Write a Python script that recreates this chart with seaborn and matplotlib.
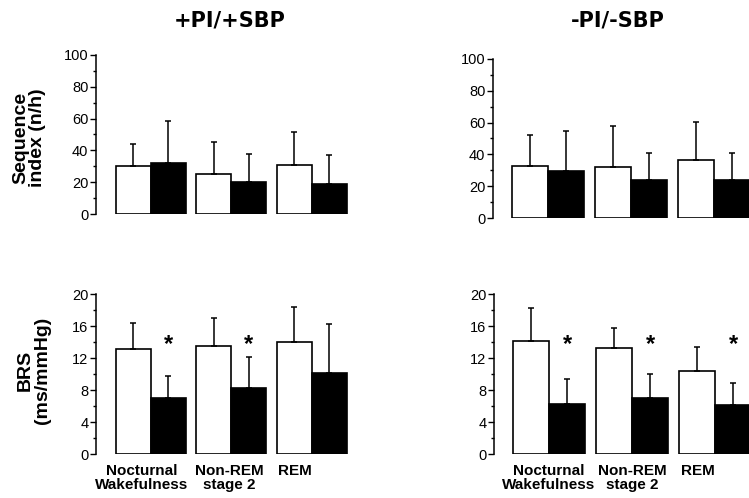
import numpy as np
import pandas as pd
import matplotlib
matplotlib.use("Agg")
import matplotlib.pyplot as plt
import seaborn as sns
from matplotlib.transforms import ScaledTranslation

# ---------------- data ----------------
stages = ["Nocturnal\nWakefulness", "Non-REM\nstage 2", "REM"]
groups = ["open", "filled"]

# +PI/+SBP sequence index (n/h)
seq_pos_white = [30.0, 25.0, 31.0]
seq_pos_white_sd = [14.0, 20.5, 20.5]
seq_pos_black = [32.0, 20.0, 19.0]
seq_pos_black_sd = [26.5, 18.0, 18.0]

# -PI/-SBP sequence index (n/h)
seq_neg_white = [32.7, 32.0, 36.3]
seq_neg_white_sd = [19.3, 26.0, 24.0]
seq_neg_black = [29.8, 24.0, 24.0]
seq_neg_black_sd = [25.2, 17.0, 16.8]

# +PI/+SBP BRS (ms/mmHg)
brs_pos_white = [13.1, 13.5, 14.0]
brs_pos_white_sd = [3.3, 3.5, 4.4]
brs_pos_black = [7.0, 8.2, 10.1]
brs_pos_black_sd = [2.8, 3.9, 6.2]

# -PI/-SBP BRS (ms/mmHg)
brs_neg_white = [14.1, 13.2, 10.4]
brs_neg_white_sd = [4.2, 2.6, 3.0]
brs_neg_black = [6.3, 7.0, 6.1]
brs_neg_black_sd = [3.1, 3.0, 2.8]

sig_pos = [True, True, False]
sig_neg = [True, True, True]

titles = ["+PI/+SBP", "-PI/-SBP"]
ylabels = ["Sequence\nindex (n/h)", "BRS\n(ms/mmHg)"]

# ---------------- style ----------------
sns.set_style("ticks")
plt.rcParams["font.family"] = ["Liberation Sans", "DejaVu Sans"]
for key in ["text.color", "axes.labelcolor", "xtick.color", "ytick.color",
            "axes.edgecolor"]:
    plt.rcParams[key] = "black"

W, H = 749, 498
fig = plt.figure(figsize=(W / 100, H / 100), dpi=100)


def add_ax(left_px, top_px, bottom_px, width_px):
    return fig.add_axes([left_px / W, 1 - bottom_px / H, width_px / W, (bottom_px - top_px) / H])


def panel(ax, white, white_sd, black, black_sd, ymax, major, minor, xlim, show_x,
          sig=None, sig_y=None, label_shift=None):
    df = pd.DataFrame({
        "stage": stages * 2,
        "group": [groups[0]] * 3 + [groups[1]] * 3,
        "value": white + black,
    })
    sns.barplot(data=df, x="stage", y="value", hue="group", order=stages,
                hue_order=groups, palette={groups[0]: "white", groups[1]: "black"},
                edgecolor="black", linewidth=1.2, width=0.87, gap=0,
                errorbar=None, legend=False, saturation=1, ax=ax)
    bars = sorted(ax.patches, key=lambda p: p.get_x())
    xs = [p.get_x() + p.get_width() / 2 for p in bars]
    hs = [p.get_height() for p in bars]
    sds = []
    for i in range(3):
        sds += [white_sd[i], black_sd[i]]
    ax.errorbar(xs, hs, yerr=[np.zeros(len(sds)), sds], fmt="none",
                ecolor="black", elinewidth=1.1, capsize=2.5, capthick=1.1, zorder=1)
    ax.set_ylim(0, ymax)
    ax.set_xlim(*xlim)
    ax.set_yticks(np.arange(0, ymax + 0.01, major))
    ax.set_yticks(np.arange(minor, ymax, major), minor=True)
    ax.tick_params(axis="y", which="major", direction="out", length=4, width=1,
                   pad=1.5, labelsize=10.5, colors="black")
    ax.tick_params(axis="y", which="minor", direction="out", length=2.5, width=1,
                   colors="black")
    ax.tick_params(axis="x", length=0, colors="black")
    sns.despine(ax=ax, bottom=True)
    ax.spines["left"].set_linewidth(1.1)
    ax.spines["left"].set_color("black")
    ax.set_xlabel("")
    ax.set_ylabel("")
    if show_x:
        ax.set_xticks(range(3))
        ax.set_xticklabels(stages, fontsize=11, fontweight="bold", linespacing=1.05,
                           color="black")
        ax.tick_params(axis="x", pad=7)
        if label_shift:
            for lab, dx in zip(ax.get_xticklabels(), label_shift):
                lab.set_transform(lab.get_transform() + ScaledTranslation(dx / 100, 0, fig.dpi_scale_trans))
    else:
        ax.set_xticklabels([])
    if sig is not None:
        for i, s in enumerate(sig):
            if s:
                ax.text(xs[2 * i + 1], sig_y, "*", ha="center", va="center",
                        fontsize=17, fontweight="bold", color="black")


ax_tl = add_ax(96, 55, 214, 256)
ax_tr = add_ax(493, 59, 218, 271)
ax_bl = add_ax(96, 294, 454, 256)
ax_br = add_ax(494, 294, 454, 271)

panel(ax_tl, seq_pos_white, seq_pos_white_sd, seq_pos_black, seq_pos_black_sd,
      100, 20, 10, (-0.683, 2.5), False)
panel(ax_tr, seq_neg_white, seq_neg_white_sd, seq_neg_black, seq_neg_black_sd,
      100, 20, 10, (-0.663, 2.6), False)
panel(ax_bl, brs_pos_white, brs_pos_white_sd, brs_pos_black, brs_pos_black_sd,
      20, 4, 2, (-0.683, 2.5), True, sig=sig_pos, sig_y=13.7, label_shift=[-9, -2, -17])
panel(ax_br, brs_neg_white, brs_neg_white_sd, brs_neg_black, brs_neg_black_sd,
      20, 4, 2, (-0.663, 2.6), True, sig=sig_neg, sig_y=13.7, label_shift=[0, 0, -17])

fig.text(230 / W, 1 - 21 / H, titles[0], ha="center", va="center", color="black",
         fontsize=15, fontweight="bold", family=["DejaVu Sans"])
fig.text(618 / W, 1 - 21 / H, titles[1], ha="center", va="center", color="black",
         fontsize=15, fontweight="bold", family=["DejaVu Sans"])
fig.text(29 / W, 1 - 138 / H, ylabels[0], ha="center", va="center", rotation=90,
         fontsize=14, fontweight="bold", linespacing=1.0, multialignment="center",
         color="black")
fig.text(34 / W, 1 - 370 / H, ylabels[1], ha="center", va="center", rotation=90,
         fontsize=14, fontweight="bold", linespacing=1.0, multialignment="center",
         color="black")

fig.savefig("out.png", dpi=100)
